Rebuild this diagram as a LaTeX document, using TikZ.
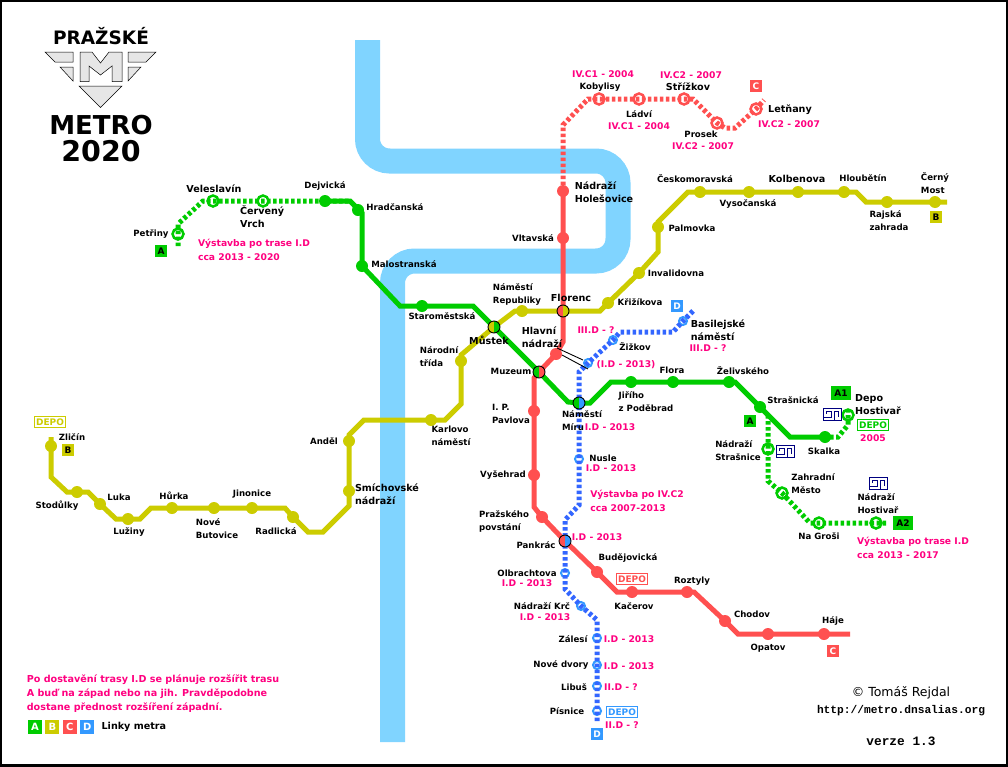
\documentclass[tikz,border=0pt]{standalone}
\usepackage{fontspec}
\setmainfont{DejaVu Sans}
\setmonofont{Liberation Mono}
\usetikzlibrary{positioning}
\definecolor{linkaA}{RGB}{0,204,0}
\definecolor{linkaB}{RGB}{204,204,0}
\definecolor{linkaC}{RGB}{255,80,80}
\definecolor{linkaD}{RGB}{51,102,255}
\definecolor{linkaDs}{RGB}{51,153,255}
\definecolor{reka}{RGB}{128,212,255}
\definecolor{plan}{RGB}{255,0,128}
\definecolor{depomodra}{RGB}{0,0,128}
\definecolor{znak}{RGB}{230,230,230}
\newcommand{\depoznak}[2]{%
  \draw[depomodra, line width=0.9] (#1,#2) rectangle (#1+18,#2+12);
  \draw[depomodra, line width=0.9] (#1,#2+9) -- (#1+8,#2+9) -- (#1+8,#2+3) -- (#1+3,#2+3) -- (#1+3,#2+6);
  \draw[depomodra, line width=0.9] (#1+11,#2+12) -- (#1+11,#2+3) -- (#1+15,#2+3) -- (#1+15,#2+9);
}
\begin{document}
\begin{tikzpicture}[x=1pt, y=-1pt,
    stanice/.style={circle, fill=#1, inner sep=0pt, minimum size=12pt},
    novastanice/.style={circle, draw=#1, line width=2.5pt, fill=white, inner sep=0pt, minimum size=11pt},
    dstanice/.style={circle, draw=linkaDs, line width=2pt, fill=white, inner sep=0pt, minimum size=8pt},
    prestup/.style n args={2}{circle, draw=black, line width=0.9pt, inner sep=0pt, minimum size=12pt,
      path picture={\fill[#1] (path picture bounding box.south west) rectangle (path picture bounding box.north);
        \fill[#2] (path picture bounding box.south) rectangle (path picture bounding box.north east);}},
    trasa/.style={draw=#1, line width=5pt, line join=miter},
    stavba/.style={draw=#1, line width=5pt, dash pattern=on 3.5pt off 2.5pt},
    popis/.style={font=\fontsize{8.6}{13}\selectfont\bfseries, align=left, inner sep=0pt},
    vetsi/.style={font=\fontsize{9.6}{13}\selectfont\bfseries, align=left, inner sep=0pt},
    termin/.style={font=\fontsize{9.2}{14}\selectfont\bfseries, text=plan, align=left, inner sep=0pt},
    stitek/.style={fill=#1, text=black, font=\fontsize{9}{9}\selectfont\bfseries, inner sep=0pt, minimum size=12pt},
    legenda/.style={fill=#1, text=white, font=\fontsize{10}{10}\selectfont\bfseries, inner sep=0pt, minimum size=14pt},
    depo/.style={draw=#1, text=#1, line width=1pt, font=\fontsize{9}{9}\selectfont\bfseries, inner sep=1.5pt, minimum height=11pt}]

    \useasboundingbox (0,0) rectangle (1008,766);
    \fill[white] (0,0) rectangle (1008,766);
    \draw[black, line width=4pt] (0,0) rectangle (1008,766);

    % reka
    \draw[reka, line width=25pt, rounded corners=22pt] (367.5,40) -- (367.5,161) -- (618,161) -- (618,261) -- (392.5,261) -- (392.5,742);

    % znak
    \path[draw=black, line width=0.5pt, fill=znak] (45,52) -- (73,52) -- (73,62) -- (55,62) -- cycle;
    \path[draw=black, line width=0.5pt, fill=znak] (60,67) -- (73,67) -- (73,81) -- cycle;
    \path[draw=black, line width=0.5pt, fill=znak] (156,52) -- (128,52) -- (128,62) -- (146,62) -- cycle;
    \path[draw=black, line width=0.5pt, fill=znak] (141,67) -- (128,67) -- (128,81) -- cycle;
    \path[draw=black, line width=0.5pt, fill=znak] (80,52) -- (92,52) -- (100.5,63) -- (109,52) -- (122,52) -- (122,81.5) -- (112,81.5) -- (112,66) -- (100.5,75) -- (89,66) -- (89,81.5) -- (80,81.5) -- cycle;
    \path[draw=black, line width=0.5pt, fill=znak] (79,86) -- (122,86) -- (100.5,107.5) -- cycle;
    \node[font=\fontsize{18.5}{18}\selectfont\bfseries] (prazske) at (101,36) {PRAŽSKÉ};
    \node[font=\fontsize{26}{26}\selectfont\bfseries] (metro) at (101,125) {METRO};
    \node[font=\fontsize{28.5}{28}\selectfont\bfseries] (rok) at (101,151) {2020};

    % linka A - planovane stanice
    \node[novastanice=linkaA] (petriny) at (178,234) {};
    \node[novastanice=linkaA] (veleslavin) at (213,201) {};
    \node[novastanice=linkaA] (cerveny) at (263,201) {};
    \node[novastanice=linkaA] (hostivar) at (848,415) {};
    \node[novastanice=linkaA] (strasnice) at (768,449) {};
    \node[novastanice=linkaA] (zahradni) at (782,493) {};
    \node[novastanice=linkaA] (grosi) at (819,523) {};
    \node[novastanice=linkaA] (ndhostivar) at (876,523) {};
    % linka C - planovane stanice
    \node[novastanice=linkaC] (kobylisy) at (599,99) {};
    \node[novastanice=linkaC] (ladvi) at (639,99) {};
    \node[novastanice=linkaC] (strizkov) at (684,99) {};
    \node[novastanice=linkaC] (prosek) at (717,123) {};
    \node[novastanice=linkaC] (letnany) at (756,109) {};
    % linka D - planovane stanice
    \node[dstanice] (basilej) at (683,321) {};
    \node[dstanice] (zizkov) at (613,340) {};
    \node[dstanice] (hlavniD) at (588,363) {};
    \node[dstanice] (nusle) at (579,459) {};
    \node[dstanice] (olbrachtova) at (565,573) {};
    \node[dstanice] (krc) at (581,606) {};
    \node[dstanice] (zalesi) at (597,638) {};
    \node[dstanice] (dvory) at (597,665) {};
    \node[dstanice] (libus) at (597,686) {};
    \node[dstanice] (pisnice) at (597,711) {};

    % ohyby trasy
    \coordinate (a1) at (178,246);
    \coordinate (a2) at (178,224);
    \coordinate (a3) at (203,201);
    \coordinate (a4) at (350,201);
    \coordinate (a5) at (362,213);
    \coordinate (a6) at (362,266);
    \coordinate (a7) at (400,306);
    \coordinate (a8) at (473,306);
    \coordinate (a9) at (568,402);
    \coordinate (a10) at (590,403);
    \coordinate (a11) at (611,382);
    \coordinate (a12) at (735,382);
    \coordinate (a13) at (790,437);
    \coordinate (a14) at (838,437);
    \coordinate (a15) at (848,425);
    \coordinate (a16) at (848,407);
    \coordinate (a17) at (768,415);
    \coordinate (a18) at (768,481);
    \coordinate (a19) at (810,523);
    \coordinate (a20) at (888,523);
    \coordinate (a21) at (830,437);

    \coordinate (b1) at (51,437);
    \coordinate (b2) at (51,477);
    \coordinate (b3) at (67,492);
    \coordinate (b4) at (88,492);
    \coordinate (b5) at (116,519);
    \coordinate (b6) at (140,519);
    \coordinate (b7) at (151,508);
    \coordinate (b8) at (285,508);
    \coordinate (b9) at (308,532);
    \coordinate (b10) at (323,532);
    \coordinate (b11) at (349,506);
    \coordinate (b12) at (349,435);
    \coordinate (b13) at (364,420);
    \coordinate (b14) at (445,420);
    \coordinate (b15) at (461,404);
    \coordinate (b16) at (461,355);
    \coordinate (b17) at (515,311);
    \coordinate (b18) at (600,311);
    \coordinate (b19) at (658,252);
    \coordinate (b20) at (658,222);
    \coordinate (b21) at (688,192);
    \coordinate (b22) at (856,192);
    \coordinate (b23) at (866,202);
    \coordinate (b24) at (947,202);

    \coordinate (c1) at (563,125);
    \coordinate (c2) at (588,99);
    \coordinate (c3) at (693,99);
    \coordinate (c4) at (725,128);
    \coordinate (c5) at (735,128);
    \coordinate (c6) at (764,100);
    \coordinate (c7) at (563,342);
    \coordinate (c8) at (534,378);
    \coordinate (c9) at (534,507);
    \coordinate (c10) at (617,592);
    \coordinate (c11) at (694,592);
    \coordinate (c12) at (738,634);
    \coordinate (c13) at (850,634);
    \coordinate (c14) at (563,191);

    \coordinate (d1) at (693,311);
    \coordinate (d2) at (673,332);
    \coordinate (d3) at (620,332);
    \coordinate (d4) at (579,372);
    \coordinate (d5) at (579,505);
    \coordinate (d6) at (565,520);
    \coordinate (d7) at (565,589);
    \coordinate (d8) at (597,620);
    \coordinate (d9) at (597,723);

    % vystavba
    \draw[stavba=linkaA] (a1) -- (petriny.center) -- (a2) -- (a3) -- (veleslavin.center) -- (cerveny.center) -- (a4);
    \draw[stavba=linkaA] (a21) -- (a14) -- (a15) -- (hostivar.center) -- (a16);
    \draw[stavba=linkaA] (a17) -- (strasnice.center) -- (a18) -- (zahradni.center) -- (a19) -- (grosi.center) -- (ndhostivar.center) -- (a20);
    \draw[stavba=linkaC] (c14) -- (c1) -- (c2) -- (kobylisy.center) -- (ladvi.center) -- (strizkov.center) -- (c3) -- (prosek.center) -- (c4) -- (c5) -- (letnany.center) -- (c6);
    \draw[stavba=linkaD] (d1) -- (basilej.center) -- (d2) -- (d3) -- (zizkov.center) -- (hlavniD.center) -- (d4) -- (nusle.center) -- (d5) -- (d6) -- (olbrachtova.center) -- (d7) -- (krc.center) -- (d8) -- (zalesi.center) -- (dvory.center) -- (libus.center) -- (pisnice.center) -- (d9);

    % linka A
    \node[stanice=linkaA] (dejvicka) at (325,201) {};
    \node[stanice=linkaA] (hradcanska) at (358,210) {};
    \node[stanice=linkaA] (malostranska) at (362,266) {};
    \node[stanice=linkaA] (staromestska) at (422,306) {};
    \node[stanice=linkaA] (jiriho) at (631,382) {};
    \node[stanice=linkaA] (flora) at (673,382) {};
    \node[stanice=linkaA] (zelivskeho) at (729,382) {};
    \node[stanice=linkaA] (strasnicka) at (760,407) {};
    \node[stanice=linkaA] (skalka) at (825,437) {};
    % linka B
    \node[stanice=linkaB] (zlicin) at (51,446) {};
    \node[stanice=linkaB] (stodulky) at (77,492) {};
    \node[stanice=linkaB] (luka) at (100,504) {};
    \node[stanice=linkaB] (luziny) at (128,519) {};
    \node[stanice=linkaB] (hurka) at (172,508) {};
    \node[stanice=linkaB] (butovice) at (214,508) {};
    \node[stanice=linkaB] (jinonice) at (252,508) {};
    \node[stanice=linkaB] (radlicka) at (293,517) {};
    \node[stanice=linkaB] (smichov) at (349,491) {};
    \node[stanice=linkaB] (andel) at (349,441) {};
    \node[stanice=linkaB] (karlovo) at (431,420) {};
    \node[stanice=linkaB] (narodni) at (461,361) {};
    \node[stanice=linkaB] (republiky) at (522,311) {};
    \node[stanice=linkaB] (krizikova) at (608,303) {};
    \node[stanice=linkaB] (invalidovna) at (639,273) {};
    \node[stanice=linkaB] (palmovka) at (658,227) {};
    \node[stanice=linkaB] (ceskomor) at (700,192) {};
    \node[stanice=linkaB] (vysocanska) at (749,192) {};
    \node[stanice=linkaB] (kolbenova) at (798,192) {};
    \node[stanice=linkaB] (hloubetin) at (844,192) {};
    \node[stanice=linkaB] (rajska) at (887,202) {};
    \node[stanice=linkaB] (cerny) at (935,202) {};
    % linka C
    \node[stanice=linkaC] (holesovice) at (563,191) {};
    \node[stanice=linkaC] (vltavska) at (563,238) {};
    \node[stanice=linkaC] (hlavni) at (556,354) {};
    \node[stanice=linkaC] (pavlova) at (534,411) {};
    \node[stanice=linkaC] (vysehrad) at (534,475) {};
    \node[stanice=linkaC] (povstani) at (542,517) {};
    \node[stanice=linkaC] (budejovicka) at (597,572) {};
    \node[stanice=linkaC] (kacerov) at (632,592) {};
    \node[stanice=linkaC] (roztyly) at (687,592) {};
    \node[stanice=linkaC] (chodov) at (725,621) {};
    \node[stanice=linkaC] (opatov) at (768,634) {};
    \node[stanice=linkaC] (haje) at (824,634) {};

    % prestupy
    \coordinate (florencxy) at (563,311);
    \coordinate (mustekxy) at (494,327);
    \coordinate (muzeumxy) at (539,372);
    \coordinate (miruxy) at (579,403);
    \coordinate (pankracxy) at (565,541);

    \draw[trasa=linkaA] (dejvicka.center) -- (a4) -- (a5) -- (malostranska.center) -- (a7) -- (staromestska.center) -- (a8) -- (mustekxy) -- (muzeumxy) -- (a9) -- (miruxy) -- (a10) -- (a11) -- (jiriho.center) -- (flora.center) -- (zelivskeho.center) -- (a12) -- (strasnicka.center) -- (a13) -- (skalka.center);
    \draw[trasa=linkaB] (b1) -- (zlicin.center) -- (b2) -- (b3) -- (stodulky.center) -- (b4) -- (luka.center) -- (b5) -- (luziny.center) -- (b6) -- (b7) -- (hurka.center) -- (butovice.center) -- (jinonice.center) -- (b8) -- (radlicka.center) -- (b9) -- (b10) -- (b11) -- (smichov.center) -- (andel.center) -- (b12) -- (b13) -- (karlovo.center) -- (b14) -- (b15) -- (narodni.center) -- (b16) -- (mustekxy) -- (b17) -- (republiky.center) -- (florencxy) -- (b18) -- (krizikova.center) -- (invalidovna.center) -- (b19) -- (palmovka.center) -- (b20) -- (b21) -- (ceskomor.center) -- (vysocanska.center) -- (kolbenova.center) -- (hloubetin.center) -- (b22) -- (b23) -- (rajska.center) -- (cerny.center) -- (b24);
    \draw[trasa=linkaC] (holesovice.center) -- (vltavska.center) -- (florencxy) -- (c7) -- (hlavni.center) -- (muzeumxy) -- (c8) -- (pavlova.center) -- (vysehrad.center) -- (c9) -- (povstani.center) -- (pankracxy) -- (budejovicka.center) -- (c10) -- (kacerov.center) -- (roztyly.center) -- (c11) -- (chodov.center) -- (c12) -- (opatov.center) -- (haje.center) -- (c13);

    \node[prestup={linkaC}{linkaB}] (florenc) at (florencxy) {};
    \node[prestup={linkaB}{linkaA}] (mustek) at (mustekxy) {};
    \node[prestup={linkaA}{linkaC}] (muzeum) at (muzeumxy) {};
    \node[prestup={linkaA}{linkaDs}] (miru) at (miruxy) {};
    \node[prestup={linkaC}{linkaDs}] (pankrac) at (pankracxy) {};

    % prechod
    \draw[black, line width=0.9pt] ([xshift=6pt,yshift=-1pt]hlavni.center) -- ([yshift=-6pt]hlavniD.center);
    \draw[black, line width=0.9pt] ([xshift=1pt,yshift=6pt]hlavni.center) -- ([xshift=-5pt,yshift=3pt]hlavniD.center);

    % nazvy
    \node[popis] (tPetriny) at (151,234) {Petřiny};
    \node[vetsi] (tVeleslavin) at (214,189) {Veleslavín};
    \node[vetsi, text width=50pt] (tCerveny) at (265,217) {Červený\\Vrch};
    \node[popis] (tDejvicka) at (325,186) {Dejvická};
    \node[popis] (tHradcanska) at (395,207) {Hradčanská};
    \node[popis] (tMalostranska) at (404,264) {Malostranská};
    \node[popis] (tStaromestska) at (442,316) {Staroměstská};
    \node[vetsi] (tMustek) at (489,340) {Můstek};
    \node[popis] (tMuzeum) at (511,371) {Muzeum};
    \node[popis] (tMiru) at (582,421) {Náměstí\\Míru};
    \node[popis] (tJiriho) at (646,402) {Jiřího\\z Poděbrad};
    \node[popis] (tFlora) at (672,370) {Flora};
    \node[popis] (tZelivskeho) at (743,371) {Želivského};
    \node[popis] (tStrasnicka) at (793,400) {Strašnická};
    \node[popis] (tSkalka) at (824,451) {Skalka};
    \node[vetsi] (tDepoH) at (878,405) {Depo\\Hostivař};
    \node[popis] (tStrasnice) at (738,451) {Nádraží\\Strašnice};
    \node[popis] (tZahradni) at (813,484) {Zahradní\\Město};
    \node[popis] (tGrosi) at (819,536) {Na Groši};
    \node[popis] (tNdHostivar) at (878,504) {Nádraží\\Hostivař};

    \node[popis] (tZlicin) at (72,437) {Zličín};
    \node[popis] (tStodulky) at (57,506) {Stodůlky};
    \node[popis] (tLuka) at (119,497) {Luka};
    \node[popis] (tLuziny) at (129,532) {Lužiny};
    \node[popis] (tHurka) at (174,496) {Hůrka};
    \node[popis] (tButovice) at (217,529) {Nové\\Butovice};
    \node[popis] (tJinonice) at (252,494) {Jinonice};
    \node[popis] (tRadlicka) at (276,531) {Radlická};
    \node[popis] (tAndel) at (324,441) {Anděl};
    \node[vetsi] (tSmichov) at (387,494) {Smíchovské\\nádraží};
    \node[popis] (tKarlovo) at (451,436) {Karlovo\\náměstí};
    \node[popis] (tNarodni) at (439,357) {Národní\\třída};
    \node[popis] (tRepubliky) at (517,294) {Náměstí\\Republiky};
    \node[vetsi] (tFlorenc) at (571,298) {Florenc};
    \node[popis] (tKrizikova) at (640,302) {Křižíkova};
    \node[popis] (tInvalidovna) at (676,273) {Invalidovna};
    \node[popis] (tPalmovka) at (692,228) {Palmovka};
    \node[popis] (tCeskomor) at (695,179) {Českomoravská};
    \node[popis] (tVysocanska) at (748,204) {Vysočanská};
    \node[vetsi] (tKolbenova) at (797,179) {Kolbenova};
    \node[popis] (tHloubetin) at (863,178) {Hloubětín};
    \node[popis] (tRajska) at (889,221) {Rajská\\zahrada};
    \node[popis] (tCerny) at (935,183) {Černý\\Most};

    \node[popis] (tKobylisy) at (600,87) {Kobylisy};
    \node[popis] (tLadvi) at (639,114) {Ládví};
    \node[vetsi] (tStrizkov) at (688,87) {Střížkov};
    \node[popis] (tProsek) at (701,134) {Prosek};
    \node[vetsi] (tLetnany) at (790,110) {Letňany};
    \node[vetsi] (tHolesovice) at (604,192) {Nádraží\\Holešovice};
    \node[popis] (tVltavska) at (533,238) {Vltavská};
    \node[vetsi] (tHlavni) at (542,337) {Hlavní\\nádraží};
    \node[popis] (tPavlova) at (511,414) {I. P.\\Pavlova};
    \node[popis] (tVysehrad) at (503,475) {Vyšehrad};
    \node[popis] (tPovstani) at (504,521) {Pražského\\povstání};
    \node[popis] (tPankrac) at (536,545) {Pankrác};
    \node[popis] (tBudejovicka) at (628,558) {Budějovická};
    \node[popis] (tKacerov) at (634,606) {Kačerov};
    \node[popis] (tRoztyly) at (692,581) {Roztyly};
    \node[popis] (tChodov) at (752,614) {Chodov};
    \node[popis] (tOpatov) at (768,648) {Opatov};
    \node[popis] (tHaje) at (833,621) {Háje};

    \node[vetsi] (tBasilej) at (718,330) {Basilejské\\náměstí};
    \node[popis] (tZizkov) at (635,347) {Žižkov};
    \node[popis] (tNusle) at (603,458) {Nusle};
    \node[popis] (tOlbrachtova) at (527,573) {Olbrachtova};
    \node[popis] (tKrc) at (542,606) {Nádraží Krč};
    \node[popis] (tZalesi) at (573,639) {Zálesí};
    \node[popis] (tDvory) at (561,665) {Nové dvory};
    \node[popis] (tLibus) at (574,687) {Libuš};
    \node[popis] (tPisnice) at (567,711) {Písnice};

    % terminy
    \node[termin] (pA) at (254,250) {Výstavba po trase I.D\\cca 2013 - 2020};
    \node[termin] (pKob) at (603,74) {IV.C1 - 2004};
    \node[termin] (pStr) at (691,75) {IV.C2 - 2007};
    \node[termin] (pLad) at (639,126) {IV.C1 - 2004};
    \node[termin] (pPro) at (703,146) {IV.C2 - 2007};
    \node[termin] (pLet) at (789,124) {IV.C2 - 2007};
    \node[termin] (pZiz) at (596,330) {III.D - ?};
    \node[termin] (pBas) at (708,348) {III.D - ?};
    \node[termin] (pHl) at (626,365) {(I.D - 2013)};
    \node[termin] (pMir) at (610,427) {I.D - 2013};
    \node[termin] (pNus) at (611,468) {I.D - 2013};
    \node[termin] (pC2) at (637,501) {Výstavba po IV.C2\\cca 2007-2013};
    \node[termin] (pPan) at (597,537) {I.D - 2013};
    \node[termin] (pOlb) at (527,583) {I.D - 2013};
    \node[termin] (pKrc) at (545,617) {I.D - 2013};
    \node[termin] (pZal) at (629,639) {I.D - 2013};
    \node[termin] (pDvo) at (629,666) {I.D - 2013};
    \node[termin] (pLib) at (621,687) {II.D - ?};
    \node[termin] (pPis) at (622,725) {II.D - ?};
    \node[termin] (pHost) at (873,438) {2005};
    \node[termin] (pHA2) at (913,548) {Výstavba po trase I.D\\cca 2013 - 2017};
    \node[termin, font=\fontsize{9.6}{14}\selectfont\bfseries] (pPozn) at (153,694) {Po dostavění trasy I.D se plánuje rozšířit trasu\\A buď na západ nebo na jih. Pravděpodobne\\dostane přednost rozšíření západní.};

    % stitky linek
    \node[stitek=linkaA] (sPetriny) at (161,251) {A};
    \node[stitek=linkaB] (sZlicin) at (68,450) {B};
    \node[stitek=linkaB] (sCerny) at (936,217) {B};
    \node[stitek=linkaC, text=white] (sLetnany) at (756,86) {C};
    \node[stitek=linkaC, text=white] (sHaje) at (833,651) {C};
    \node[stitek=linkaDs, text=white] (sBasilej) at (677,306) {D};
    \node[stitek=linkaDs, text=white] (sPisnice) at (597,734) {D};
    \node[stitek=linkaA] (sStrasnice) at (750,421) {A};
    \node[stitek=linkaA, minimum width=20pt, minimum height=14pt] (sA1) at (841,393) {A1};
    \node[stitek=linkaA, minimum width=20pt, minimum height=14pt] (sA2) at (903,523) {A2};

    % depa
    \node[depo=linkaB] (dZlicin) at (50,422) {DEPO};
    \node[depo=linkaC] (dKacerov) at (632,579) {DEPO};
    \node[depo=linkaDs] (dPisnice) at (622,712) {DEPO};
    \node[depo=linkaA] (dHostivar) at (873,425) {DEPO};
    \depoznak{823}{408}
    \depoznak{776}{445}
    \depoznak{869}{477}

    % legenda
    \node[legenda=linkaA] (lA) at (35,727) {A};
    \node[legenda=linkaB, right=3pt of lA] (lB) {B};
    \node[legenda=linkaC, right=3pt of lB] (lC) {C};
    \node[legenda=linkaDs, right=3pt of lC] (lD) {D};
    \node[vetsi, right=7pt of lD] (tLinky) {Linky metra};

    % autor
    \node[font=\fontsize{12.5}{12}\selectfont] (autor) at (901,693) {© Tomáš Rejdal};
    \node[font=\fontsize{11.2}{11}\selectfont\ttfamily\bfseries] (web) at (901,711) {http://metro.dnsalias.org};
    \node[font=\fontsize{12.8}{12}\selectfont\ttfamily\bfseries] (verze) at (901,741) {verze 1.3};
\end{tikzpicture}
\end{document}
